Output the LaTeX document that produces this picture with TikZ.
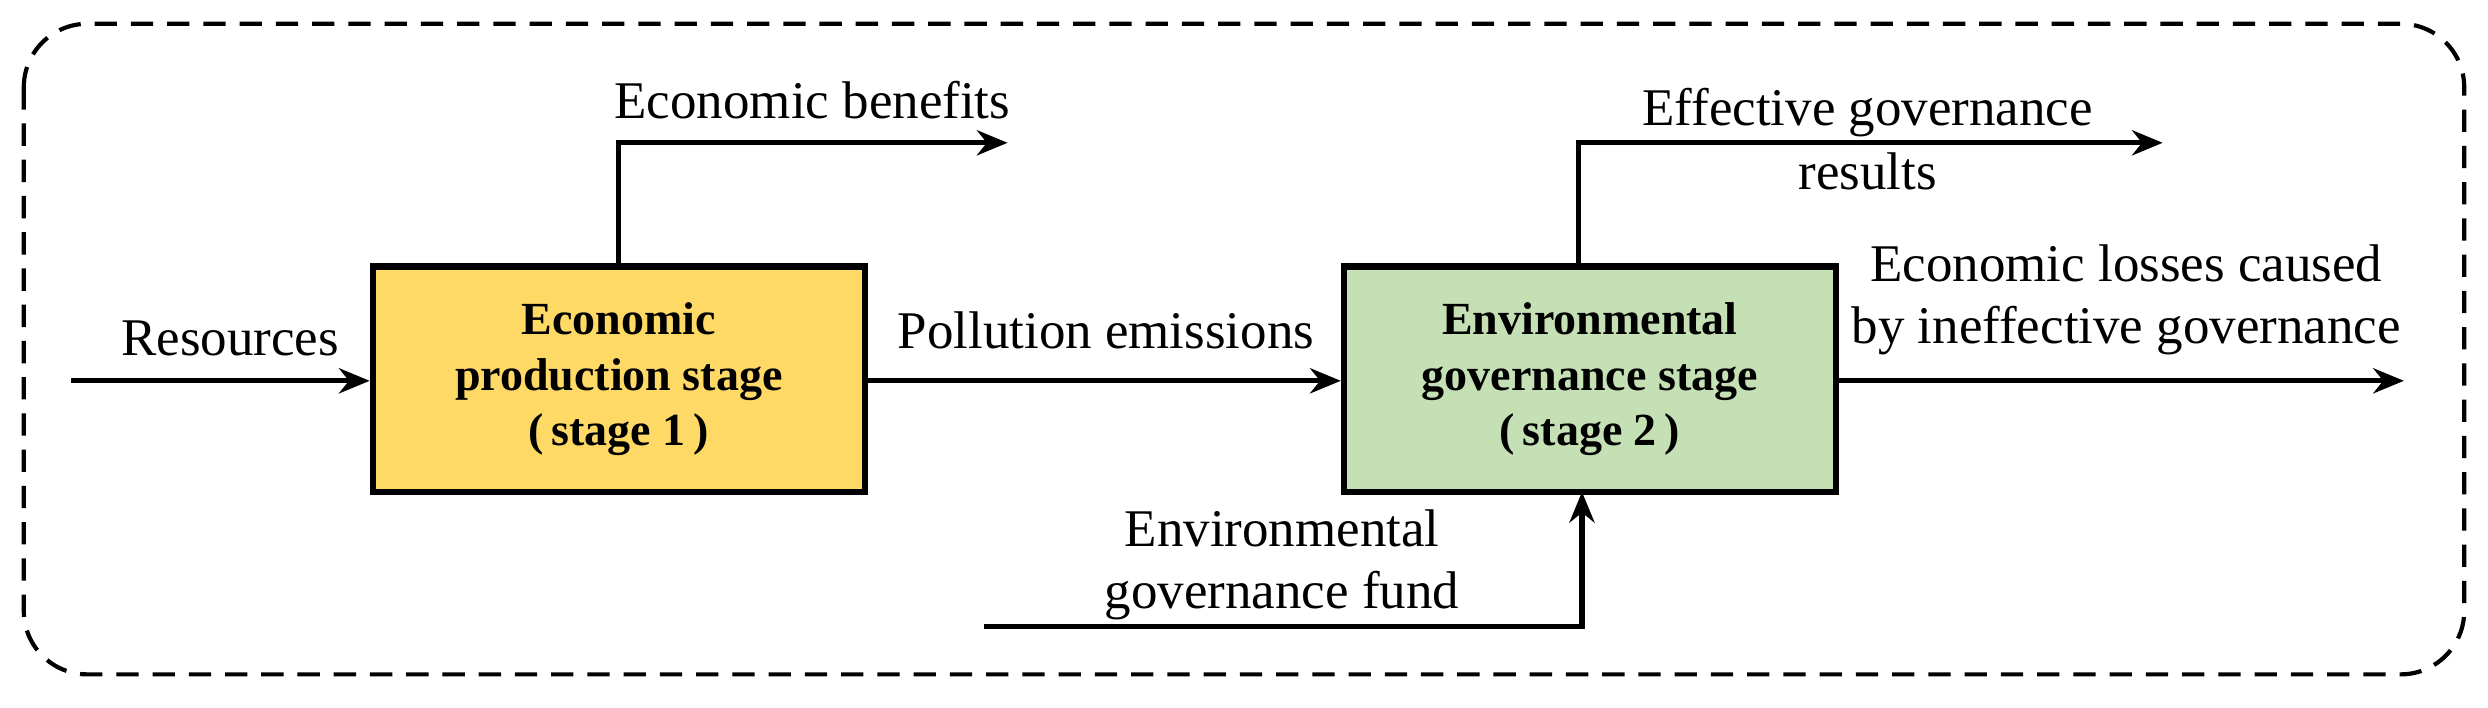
\documentclass[tikz,border=0pt]{standalone}
\usepackage{fontspec}
\setmainfont{Liberation Serif}
\usetikzlibrary{arrows.meta}
\begin{document}
\begin{tikzpicture}[x=0.02cm,y=-0.02cm,
  box/.style={draw,line width=2.3pt,minimum width=310*0.02cm,minimum height=142*0.02cm,align=center,font=\fontsize{16.5}{20}\selectfont\bfseries},
  flow/.style={line width=1.9pt,-{Stealth[length=11pt,width=9pt]}},
  lab/.style={font=\fontsize{19}{22}\selectfont,align=center}]
\useasboundingbox (0,0) rectangle (1568,446);
\draw[line width=1.5pt,dash pattern=on 8pt off 5pt,rounded corners=0.8cm] (15,15) rectangle (1553,425);
\node[box,fill={rgb,255:red,255;green,217;blue,102}] (s1) at (390,239) {Economic\\production stage\\(\,stage 1\,)};
\node[box,fill={rgb,255:red,197;green,224;blue,180}] (s2) at (1002,239) {Environmental\\governance stage\\(\,stage 2\,)};
\coordinate (rin) at (45,240);
\coordinate (rout) at (1515,240);
\coordinate (eb) at (635,90);
\coordinate (eg) at (1363,90);
\coordinate (ff) at (620,395);
\draw[flow] (rin) -- (s1.west |- rin);
\draw[flow] (s1.east |- rin) -- (s2.west |- rin);
\draw[flow] (s2.east |- rin) -- (rout);
\draw[flow] (s1.north) |- (eb);
\draw[flow] (995,168) |- (eg);
\draw[flow] (ff) -| (997,310);
\node[lab] (l1) at (145,213) {Resources};
\node[lab] (l2) at (697,208) {Pollution emissions};
\node[lab] (l3) at (1340,189) {Economic losses caused\\by ineffective governance};
\node[lab] (l4) at (512,63) {Economic benefits};
\node[lab] (l5a) at (1177,71) {Effective governance};
\node[lab] (l5b) at (1177,108) {results};
\node[lab] (l6) at (808,356) {Environmental\\governance fund};
\end{tikzpicture}
\end{document}
